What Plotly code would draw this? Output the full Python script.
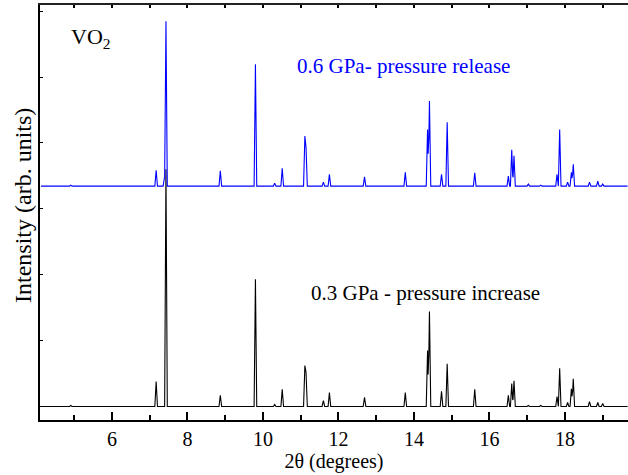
import plotly.graph_objects as go

# Peak positions (2theta, degrees)
peak_pos = [4.91, 7.17, 7.39, 7.43, 8.87, 9.80, 10.31, 10.51, 11.11, 11.14,
            11.60, 11.76, 12.69, 13.77, 14.36, 14.41, 14.73, 14.88, 15.61,
            16.50, 16.59, 16.65, 17.03, 17.36, 17.79, 17.86, 18.07, 18.17,
            18.22, 18.65, 18.87, 19.00]

# 0.3 GPa - pressure increase (black), peak heights above baseline
black_heights = [15, 380, 0, 3600, 170, 1930, 30, 260, 620, 520,
                 90, 210, 140, 210, 850, 1440, 230, 650, 260,
                 170, 350, 390, 15, 15, 150, 580, 60, 270,
                 420, 75, 60, 45]

# 0.6 GPa - pressure release (blue), peak heights above baseline
blue_heights = [15, 240, 130, 2500, 230, 1850, 45, 270, 760, 590,
                60, 180, 140, 210, 860, 1290, 180, 970, 200,
                150, 550, 460, 30, 15, 180, 860, 60, 210,
                330, 60, 75, 30]

black_offset = 0
blue_offset = 3345
scan_start, scan_end = 4.12, 19.66
peak_halfwidth = 0.035

x_ticks = [6, 8, 10, 12, 14, 16, 18]


def profile(positions, heights, offset):
    xs = {scan_start, scan_end}
    for p in positions:
        xs.update([round(p - peak_halfwidth, 4), p, round(p + peak_halfwidth, 4)])
    xs = sorted(xs)
    ys = []
    for x in xs:
        v = 0.0
        for p, h in zip(positions, heights):
            d = abs(x - p)
            if d < peak_halfwidth:
                v = max(v, h * (1 - d / peak_halfwidth))
        ys.append(offset + v)
    return xs, ys


bx, by = profile(peak_pos, black_heights, black_offset)
ux, uy = profile(peak_pos, blue_heights, blue_offset)

FONT = "Liberation Serif"

fig = go.Figure()
fig.add_trace(go.Scatter(x=bx, y=by, mode="lines",
                         line=dict(color="black", width=1.1), hoverinfo="skip"))
fig.add_trace(go.Scatter(x=ux, y=uy, mode="lines",
                         line=dict(color="#0000ff", width=1.1), hoverinfo="skip"))
fig.add_trace(go.Scatter(x=[scan_start], y=[0], xaxis="x2", mode="markers",
                         marker=dict(opacity=0), hoverinfo="skip"))

fig.update_layout(
    width=628, height=475,
    margin=dict(l=40, r=0, t=5, b=55),
    paper_bgcolor="white", plot_bgcolor="white",
    showlegend=False,
    font=dict(family=FONT, size=21, color="black"),
    xaxis=dict(range=[4.093, 19.67], showgrid=False, zeroline=False,
               automargin=False,
               showline=True, linecolor="black", linewidth=2,
               tickmode="array", tickvals=x_ticks, ticktext=[str(t) for t in x_ticks],
               ticks="inside", ticklen=8, tickwidth=1.5, tickcolor="black",
               minor=dict(dtick=1, tick0=0, ticks="inside", ticklen=5,
                          tickwidth=1.5, tickcolor="black", showgrid=False),
               tickfont=dict(family=FONT, size=20),
               title=dict(text="2θ (degrees)", font=dict(family=FONT, size=20),
                          standoff=0)),
    xaxis2=dict(range=[4.093, 19.67], overlaying="x", side="top", anchor="y",
                automargin=False,
                showgrid=False, zeroline=False, showline=True,
                linecolor="#222222", linewidth=2, ticks="inside", dtick=1,
                tick0=0, ticklen=3, tickwidth=1.5, tickcolor="black",
                showticklabels=False),
    yaxis=dict(range=[-205, 6093], showgrid=False, zeroline=False,
               automargin=False,
               showline=True, linecolor="black", linewidth=2,
               ticks="inside", dtick=1000, tick0=0, ticklen=3, tickwidth=1.2,
               tickcolor="black", showticklabels=False),
)

fig.add_annotation(x=-0.029, y=0.518, xref="paper", yref="paper",
                   text="Intensity (arb. units)", textangle=-90,
                   showarrow=False, xanchor="center", yanchor="middle",
                   font=dict(family=FONT, size=24, color="black"))
fig.add_annotation(x=4.87, y=5590, xref="x", yref="y", text="VO<sub>2</sub>",
                   showarrow=False, xanchor="left", yanchor="middle",
                   font=dict(family=FONT, size=22, color="black"))
fig.add_annotation(x=10.84, y=5160, xref="x", yref="y",
                   text="0.6 GPa- pressure release", showarrow=False,
                   xanchor="left", yanchor="middle",
                   font=dict(family=FONT, size=21, color="#0000ff"))
fig.add_annotation(x=11.23, y=1730, xref="x", yref="y",
                   text="0.3 GPa - pressure increase", showarrow=False,
                   xanchor="left", yanchor="middle",
                   font=dict(family=FONT, size=21, color="black"))

fig.write_html("out.html", config={"displayModeBar": False},
               post_script="document.body.style.margin='0';document.body.style.overflow='hidden';")
